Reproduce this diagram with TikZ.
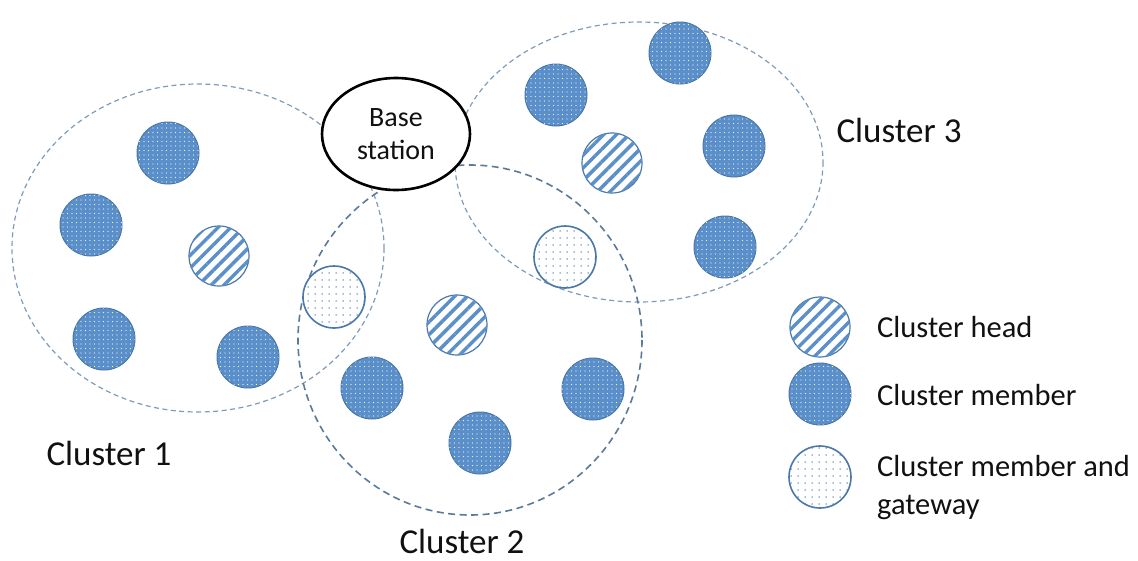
\documentclass[tikz,border=0pt]{standalone}
\usepackage{fontspec}
\setmainfont{Carlito}
\usetikzlibrary{patterns.meta,shapes.geometric}
\definecolor{nodeblue}{HTML}{5B8FC9}
\definecolor{rimblue}{HTML}{4A78A8}
\definecolor{dashlight}{HTML}{7F9BB8}
\definecolor{dashdark}{HTML}{5A7A9A}
\definecolor{txt}{HTML}{111111}
\tikzset{
  member/.style={circle, minimum size=62pt, inner sep=0pt, draw=rimblue, line width=1pt, fill=nodeblue,
    postaction={pattern={Dots[distance=4.5pt, radius=0.6pt]}, pattern color=white!90!nodeblue}},
  head/.style={circle, minimum size=60pt, inner sep=0pt, draw=rimblue, line width=1.2pt, fill=white,
    postaction={pattern={Lines[angle=45, distance=9pt, line width=3.4pt]}, pattern color=nodeblue}},
  gateway/.style={circle, minimum size=62pt, inner sep=0pt, draw=rimblue, line width=1.6pt, fill=white,
    postaction={pattern={Dots[distance=7pt, radius=0.75pt]}, pattern color=rimblue}},
  zonelight/.style={draw=dashlight, line width=1.2pt, dash pattern=on 5pt off 3.5pt},
  zonedark/.style={draw=dashdark, line width=1.6pt, dash pattern=on 7pt off 4.5pt},
  clusterlabel/.style={font=\fontsize{35}{40}\selectfont, text=txt, inner sep=0pt},
  legendlabel/.style={font=\fontsize{30.5}{38}\selectfont, text=txt, inner sep=0pt, anchor=west, align=left},
}
\begin{document}
\begin{tikzpicture}[x=1pt, y=-1pt]
\useasboundingbox (0,0) rectangle (1138,560);
% cluster zones
\draw[zonelight] (198,248) ellipse [x radius=186, y radius=164];
\draw[zonelight] (639,162) ellipse [x radius=184, y radius=140];
\draw[zonedark] (470,340) ellipse [x radius=172, y radius=175];
% base station
\node[ellipse, draw=black, line width=2.6pt, fill=white, minimum width=148pt, minimum height=112pt, inner sep=0pt,
  align=center, font=\fontsize{28}{33}\selectfont, text=txt] (bs) at (396,134) {Base\\station};
% cluster 1
\node[member] (c1a) at (168,153) {};
\node[member] (c1b) at (91,225) {};
\node[member] (c1c) at (104,339) {};
\node[member] (c1d) at (248,357) {};
\node[head] (c1h) at (219,256) {};
\node[gateway] (g12) at (334,297) {};
% cluster 2
\node[head] (c2h) at (457,325) {};
\node[member] (c2a) at (372,388) {};
\node[member] (c2b) at (593,389) {};
\node[member] (c2c) at (480,443) {};
% cluster 3
\node[member] (c3a) at (680,53) {};
\node[member] (c3b) at (556,95) {};
\node[member] (c3c) at (734,146) {};
\node[member] (c3d) at (725,247) {};
\node[head] (c3h) at (612,163) {};
\node[gateway] (g23) at (565,257) {};
% cluster names
\node[clusterlabel] (l1) at (109,453) {Cluster 1};
\node[clusterlabel] (l2) at (462,541) {Cluster 2};
\node[clusterlabel] (l3) at (899,130) {Cluster 3};
% legend
\node[head] (kh) at (820,327) {};
\node[member] (km) at (820,394) {};
\node[gateway] (kg) at (820,477) {};
\node[legendlabel] (th) at (877,327) {Cluster head};
\node[legendlabel] (tm) at (877,395) {Cluster member};
\node[legendlabel] (tg) at (877,488) {Cluster member and\\gateway};
\end{tikzpicture}
\end{document}
